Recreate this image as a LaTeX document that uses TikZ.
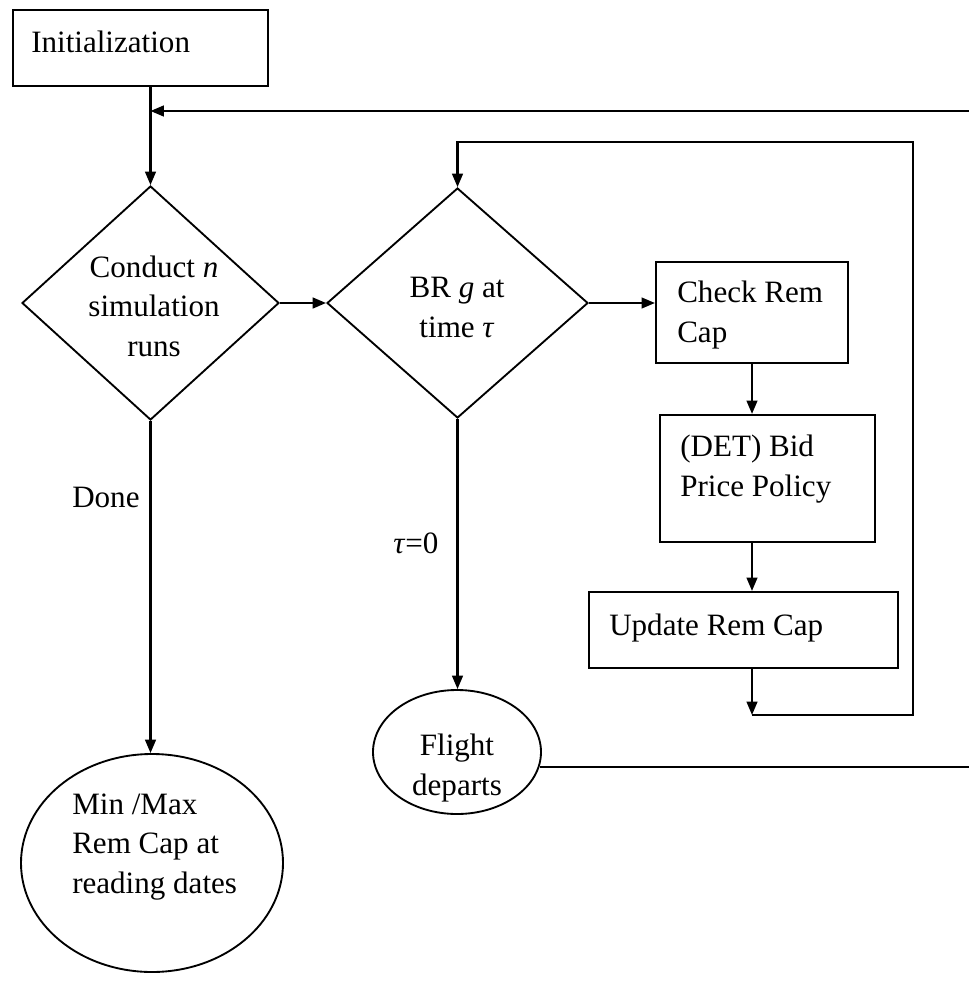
\documentclass[tikz,border=0pt]{standalone}
\usepackage{fontspec}
\setmainfont{Liberation Serif}
\usetikzlibrary{arrows.meta,shapes.geometric}
\begin{document}
\begin{tikzpicture}[x=0.75pt,y=-0.75pt,
  every node/.style={font=\fontsize{23.3}{29.5}\selectfont},
  line/.style={line width=1.6pt},
  arr/.style={line, -{Triangle[length=10pt,width=8pt]}},
  box/.style={draw, line width=1.6pt, rectangle, inner sep=0pt},
  decision/.style={draw, line width=1.4pt, diamond, inner sep=0pt},
  terminal/.style={draw, line width=1.4pt, ellipse, inner sep=0pt},
  txt/.style={inner sep=0pt, align=left},
  ctxt/.style={inner sep=0pt, align=center},
]
\useasboundingbox (0,0) rectangle (969,999);

% shapes
\node[box, minimum width=191.25pt, minimum height=57pt] (init) at (140.5,48) {};
\node[decision, minimum width=192.75pt, minimum height=175.5pt] (d1) at (150.5,303) {};
\node[decision, minimum width=195.75pt, minimum height=172.5pt] (d2) at (457.5,303) {};
\node[box, minimum width=144pt, minimum height=75.75pt] (check) at (752,312.5) {};
\node[box, minimum width=161.25pt, minimum height=95.25pt] (det) at (767.5,478.5) {};
\node[box, minimum width=231.75pt, minimum height=57pt] (upd) at (743.5,630) {};
\node[terminal, minimum width=126pt, minimum height=93pt] (fd) at (457,752) {};
\node[terminal, minimum width=196.5pt, minimum height=163.5pt] (mm) at (152,863) {};

% texts (anchored at the baseline of their last line)
\node[txt, anchor=base west] (initT) at (31,53) {Initialization};
\node[ctxt, anchor=base] (d1T) at (154,356) {Conduct \textit{n}\\simulation\\runs};
\node[ctxt, anchor=base] (d2T) at (457,337) {BR \textit{g} at\\time \textit{τ}};
\node[txt, anchor=base west] (checkT) at (677,342) {Check Rem\\Cap};
\node[txt, anchor=base west] (detT) at (680,496) {(DET) Bid\\Price Policy};
\node[txt, anchor=base west] (updT) at (609,635) {Update Rem Cap};
\node[ctxt, anchor=base] (fdT) at (457,795) {Flight\\departs};
\node[txt, anchor=base west] (mmT) at (72,893) {Min /Max\\Rem Cap at\\reading dates};
\node[txt, anchor=base west] (doneT) at (72,507) {Done};
\node[txt, anchor=base west] (tauT) at (393,553) {\textit{τ}=0};

% free ends and corners
\coordinate (topR) at (969,111);
\coordinate (rEdge) at (969,0);
\coordinate (jn) at (752,715);
\coordinate (loopBR) at (913,715);
\coordinate (loopTR) at (913,142);

% connectors
\draw[arr] (d1.north |- init.south) -- (d1.north);
\draw[arr] (topR) -- (topR -| d1.north);
\draw[arr] (d1.east) -- (d2.west);
\draw[arr] (d2.east) -- (check.west |- d2.east);
\draw[arr] (check.south) -- (check.south |- det.north);
\draw[arr] (check.south |- det.south) -- (check.south |- upd.north);
\draw[arr] (jn |- upd.south) -- (jn);
\draw[arr] (jn) -- (loopBR) -- (loopTR) -- (loopTR -| d2.north) -- (d2.north);
\draw[arr] (d2.south) -- (d2.south |- fd.north);
\draw[arr] (d1.south) -- (d1.south |- mm.north);
\draw[line] (fd.-10.5) -- (fd.-10.5 -| rEdge);
\end{tikzpicture}
\end{document}
